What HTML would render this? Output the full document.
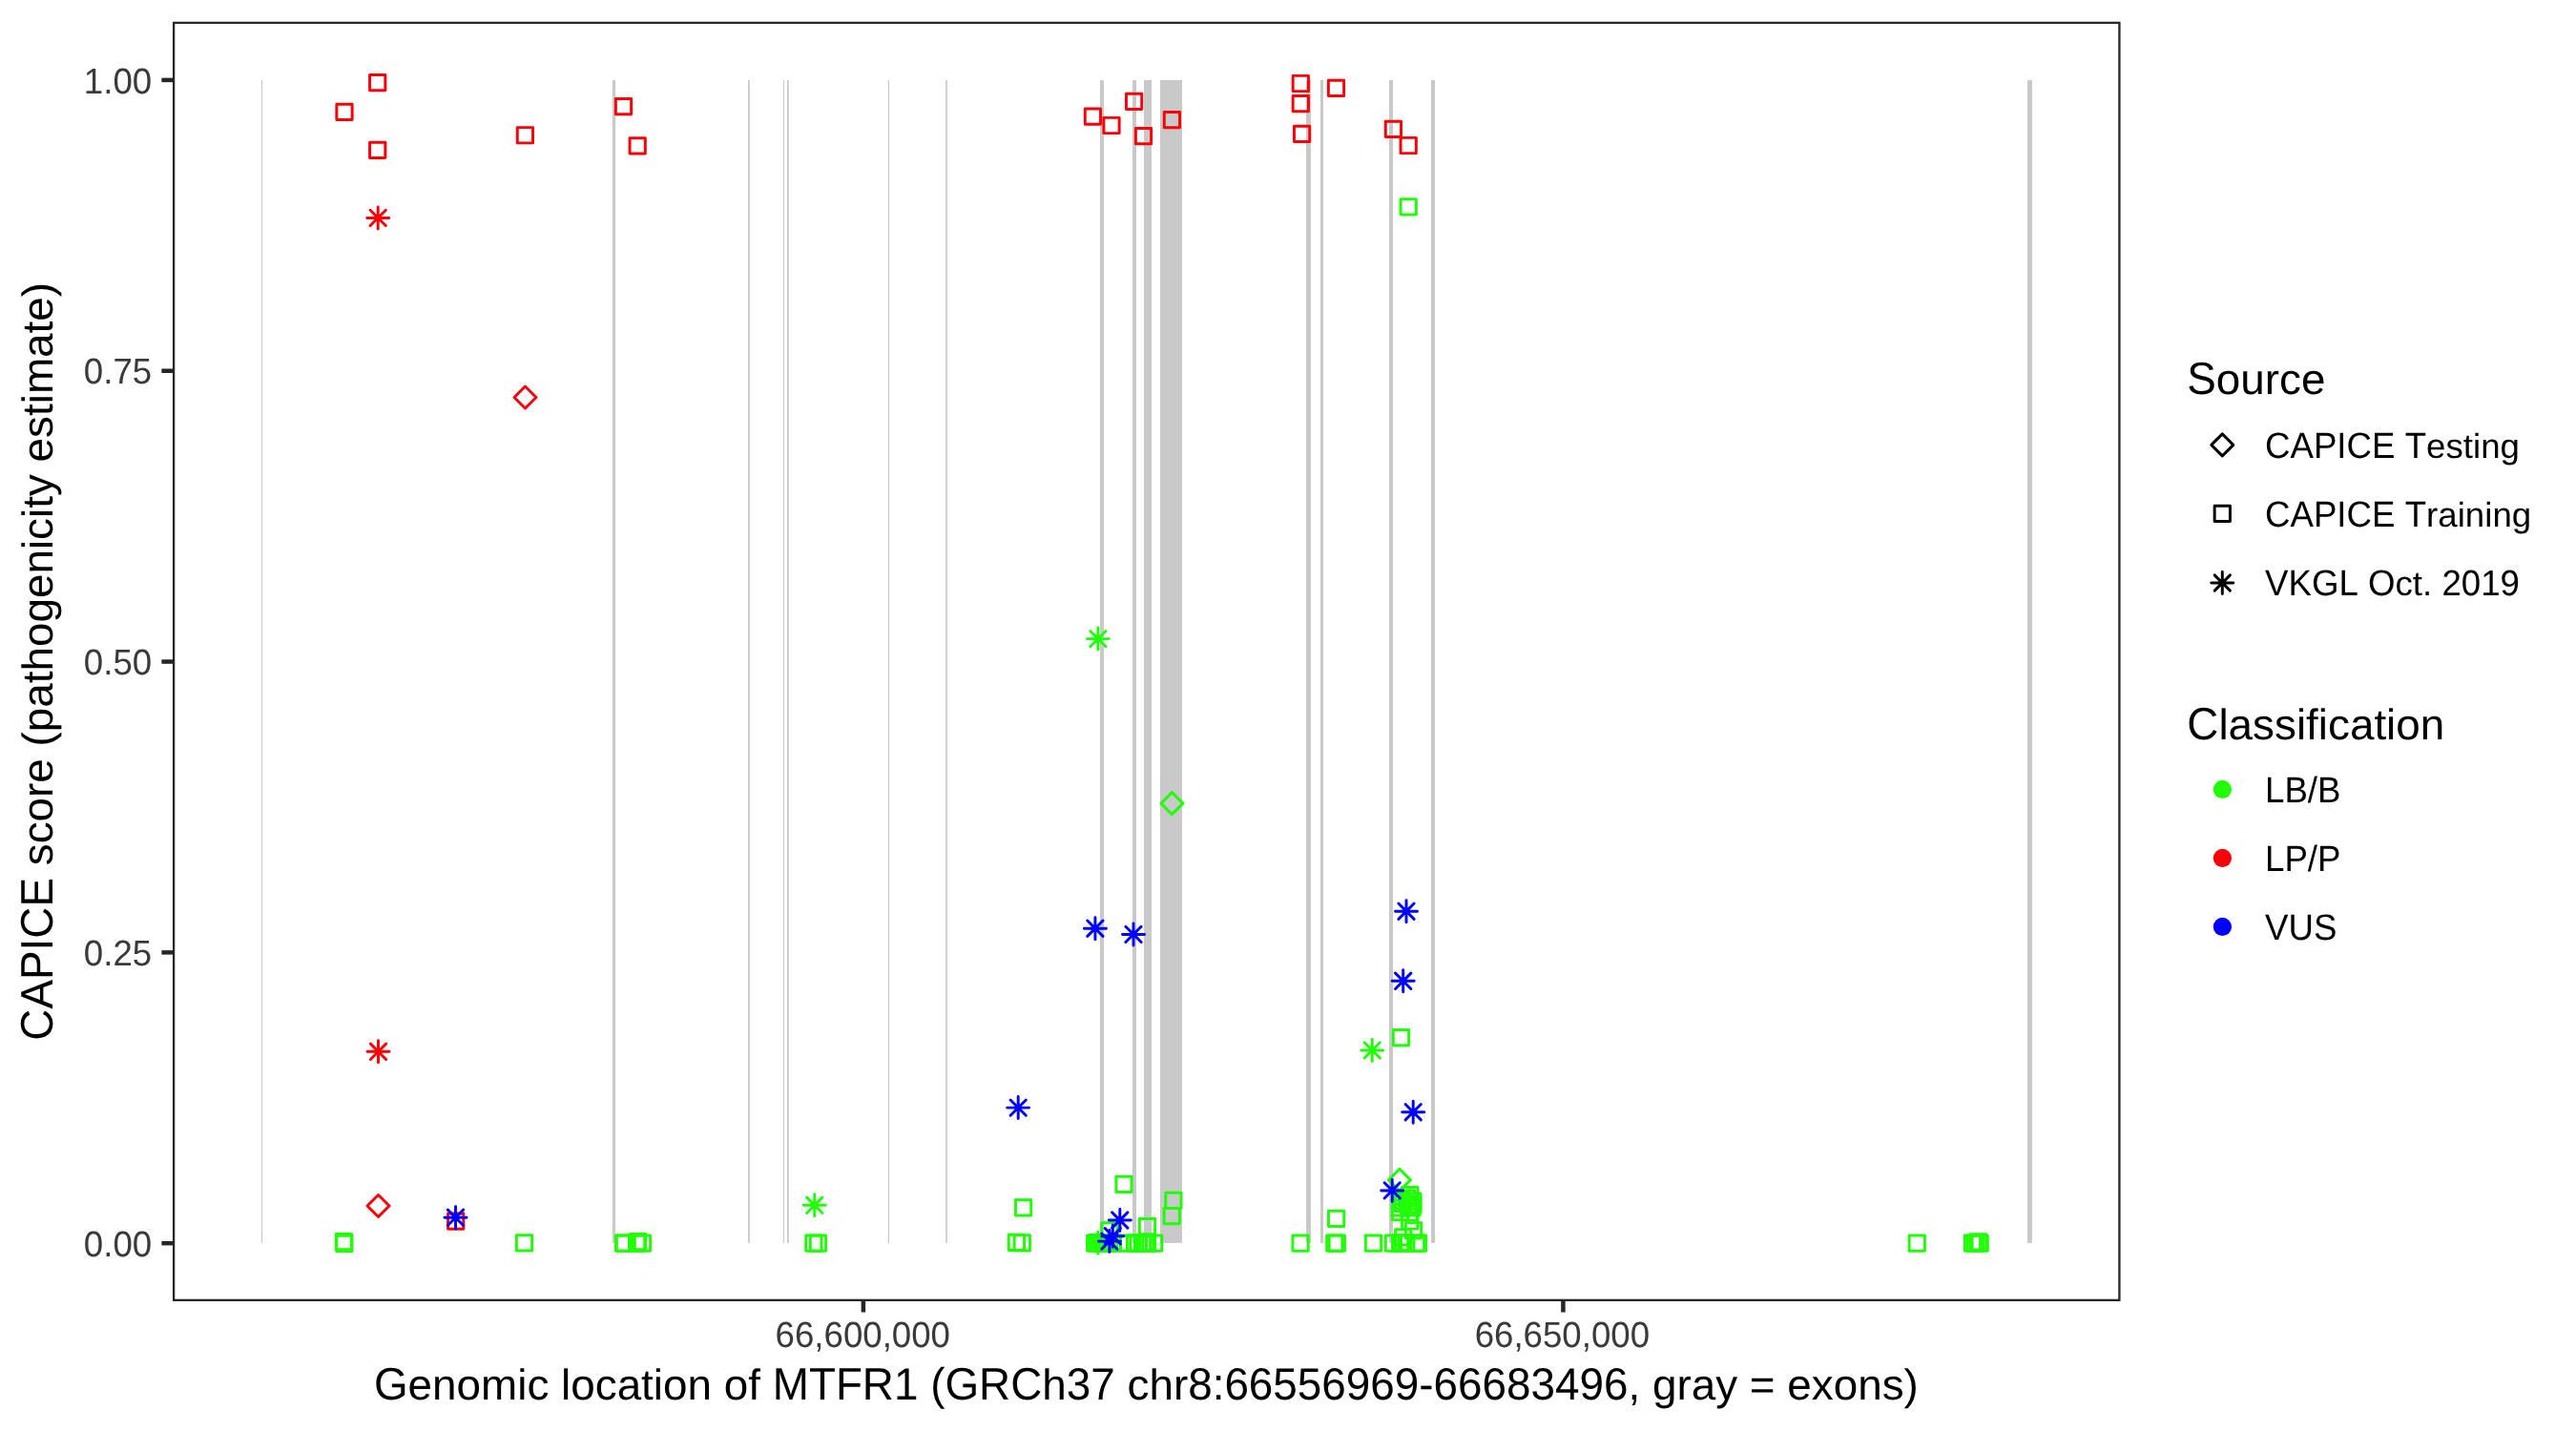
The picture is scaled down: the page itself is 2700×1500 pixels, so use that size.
<!DOCTYPE html>
<html><head><meta charset="utf-8"><title>CAPICE MTFR1</title>
<style>html,body{margin:0;padding:0;background:#fff}body{width:2700px;height:1500px;position:relative;overflow:hidden;font-family:"Liberation Sans",sans-serif}</style></head>
<body>
<svg text-rendering="geometricPrecision" style="font-kerning:none;will-change:transform;position:absolute;left:0;top:0" width="2700" height="1500" viewBox="0 0 2700 1500">
<rect width="2700" height="1500" fill="#fff"/>
<g fill="#C9C9C9">
<rect x="273.9" y="83.9" width="1.20" height="1219.00"/>
<rect x="641.9" y="83.9" width="3.20" height="1219.00"/>
<rect x="784.1" y="83.9" width="1.80" height="1219.00"/>
<rect x="820.9" y="83.9" width="1.10" height="1219.00"/>
<rect x="825.0" y="83.9" width="1.80" height="1219.00"/>
<rect x="930.8" y="83.9" width="1.20" height="1219.00"/>
<rect x="991.2" y="83.9" width="1.70" height="1219.00"/>
<rect x="1153" y="83.9" width="4.00" height="1219.00"/>
<rect x="1187" y="83.9" width="4.00" height="1219.00"/>
<rect x="1199" y="83.9" width="8.00" height="1219.00"/>
<rect x="1216" y="83.9" width="23.00" height="1219.00"/>
<rect x="1369" y="83.9" width="5.00" height="1219.00"/>
<rect x="1384" y="83.9" width="3.00" height="1219.00"/>
<rect x="1456" y="83.9" width="4.00" height="1219.00"/>
<rect x="1500" y="83.9" width="4.00" height="1219.00"/>
<rect x="2125" y="83.9" width="5.00" height="1219.00"/>
</g>
<g fill="none" stroke-width="2.95" stroke-linejoin="round" stroke-linecap="round">
<rect x="387.56" y="78.46" width="16.27" height="16.27" stroke="#FB0007"/>
<rect x="352.86" y="109.26" width="16.27" height="16.27" stroke="#FB0007"/>
<rect x="387.56" y="149.26" width="16.27" height="16.27" stroke="#FB0007"/>
<rect x="542.26" y="133.61" width="16.27" height="16.27" stroke="#FB0007"/>
<rect x="645.36" y="103.56" width="16.27" height="16.27" stroke="#FB0007"/>
<rect x="660.06" y="144.66" width="16.27" height="16.27" stroke="#FB0007"/>
<rect x="1137.26" y="114.06" width="16.27" height="16.27" stroke="#FB0007"/>
<rect x="1156.86" y="123.36" width="16.27" height="16.27" stroke="#FB0007"/>
<rect x="1180.46" y="98.26" width="16.27" height="16.27" stroke="#FB0007"/>
<rect x="1190.36" y="134.46" width="16.27" height="16.27" stroke="#FB0007"/>
<rect x="1220.26" y="117.56" width="16.27" height="16.27" stroke="#FB0007"/>
<rect x="1355.16" y="79.36" width="16.27" height="16.27" stroke="#FB0007"/>
<rect x="1355.16" y="100.46" width="16.27" height="16.27" stroke="#FB0007"/>
<rect x="1356.46" y="132.26" width="16.27" height="16.27" stroke="#FB0007"/>
<rect x="1392.36" y="84.26" width="16.27" height="16.27" stroke="#FB0007"/>
<rect x="1452.26" y="127.16" width="16.27" height="16.27" stroke="#FB0007"/>
<rect x="1468.06" y="144.36" width="16.27" height="16.27" stroke="#FB0007"/>
<rect x="469.56" y="1272.06" width="16.27" height="16.27" stroke="#FB0007"/>
<rect x="1468.06" y="208.66" width="16.27" height="16.27" stroke="#21FF06"/>
<rect x="1460.36" y="1079.46" width="16.27" height="16.27" stroke="#21FF06"/>
<rect x="352.26" y="1293.36" width="16.27" height="16.27" stroke="#21FF06"/>
<rect x="352.76" y="1295.36" width="16.27" height="16.27" stroke="#21FF06"/>
<rect x="541.36" y="1294.76" width="16.27" height="16.27" stroke="#21FF06"/>
<rect x="645.36" y="1295.06" width="16.27" height="16.27" stroke="#21FF06"/>
<rect x="646.36" y="1295.06" width="16.27" height="16.27" stroke="#21FF06"/>
<rect x="659.46" y="1295.06" width="16.27" height="16.27" stroke="#21FF06"/>
<rect x="660.46" y="1293.56" width="16.27" height="16.27" stroke="#21FF06"/>
<rect x="665.31" y="1295.06" width="16.27" height="16.27" stroke="#21FF06"/>
<rect x="844.71" y="1295.06" width="16.27" height="16.27" stroke="#21FF06"/>
<rect x="849.31" y="1295.06" width="16.27" height="16.27" stroke="#21FF06"/>
<rect x="1064.46" y="1257.66" width="16.27" height="16.27" stroke="#21FF06"/>
<rect x="1057.26" y="1294.26" width="16.27" height="16.27" stroke="#21FF06"/>
<rect x="1063.16" y="1294.76" width="16.27" height="16.27" stroke="#21FF06"/>
<rect x="1169.86" y="1233.26" width="16.27" height="16.27" stroke="#21FF06"/>
<rect x="1221.76" y="1250.16" width="16.27" height="16.27" stroke="#21FF06"/>
<rect x="1220.06" y="1266.56" width="16.27" height="16.27" stroke="#21FF06"/>
<rect x="1194.36" y="1277.56" width="16.27" height="16.27" stroke="#21FF06"/>
<rect x="1154.76" y="1281.76" width="16.27" height="16.27" stroke="#21FF06"/>
<rect x="1139.56" y="1295.06" width="16.27" height="16.27" stroke="#21FF06"/>
<rect x="1142.56" y="1294.46" width="16.27" height="16.27" stroke="#21FF06"/>
<rect x="1145.56" y="1295.06" width="16.27" height="16.27" stroke="#21FF06"/>
<rect x="1148.56" y="1295.06" width="16.27" height="16.27" stroke="#21FF06"/>
<rect x="1151.56" y="1294.26" width="16.27" height="16.27" stroke="#21FF06"/>
<rect x="1154.56" y="1295.06" width="16.27" height="16.27" stroke="#21FF06"/>
<rect x="1158.36" y="1295.06" width="16.27" height="16.27" stroke="#21FF06"/>
<rect x="1174.56" y="1295.06" width="16.27" height="16.27" stroke="#21FF06"/>
<rect x="1181.46" y="1295.06" width="16.27" height="16.27" stroke="#21FF06"/>
<rect x="1184.86" y="1295.06" width="16.27" height="16.27" stroke="#21FF06"/>
<rect x="1189.46" y="1294.36" width="16.27" height="16.27" stroke="#21FF06"/>
<rect x="1192.46" y="1295.06" width="16.27" height="16.27" stroke="#21FF06"/>
<rect x="1194.46" y="1295.06" width="16.27" height="16.27" stroke="#21FF06"/>
<rect x="1201.46" y="1295.06" width="16.27" height="16.27" stroke="#21FF06"/>
<rect x="1354.91" y="1295.06" width="16.27" height="16.27" stroke="#21FF06"/>
<rect x="1392.46" y="1269.26" width="16.27" height="16.27" stroke="#21FF06"/>
<rect x="1390.66" y="1295.06" width="16.27" height="16.27" stroke="#21FF06"/>
<rect x="1393.16" y="1295.06" width="16.27" height="16.27" stroke="#21FF06"/>
<rect x="1431.36" y="1295.06" width="16.27" height="16.27" stroke="#21FF06"/>
<rect x="1469.56" y="1244.56" width="16.27" height="16.27" stroke="#21FF06"/>
<rect x="1472.56" y="1251.06" width="16.27" height="16.27" stroke="#21FF06"/>
<rect x="1466.36" y="1247.86" width="16.27" height="16.27" stroke="#21FF06"/>
<rect x="1462.36" y="1253.36" width="16.27" height="16.27" stroke="#21FF06"/>
<rect x="1459.16" y="1257.86" width="16.27" height="16.27" stroke="#21FF06"/>
<rect x="1467.86" y="1254.86" width="16.27" height="16.27" stroke="#21FF06"/>
<rect x="1471.86" y="1257.86" width="16.27" height="16.27" stroke="#21FF06"/>
<rect x="1459.36" y="1262.56" width="16.27" height="16.27" stroke="#21FF06"/>
<rect x="1469.36" y="1262.86" width="16.27" height="16.27" stroke="#21FF06"/>
<rect x="1460.86" y="1250.36" width="16.27" height="16.27" stroke="#21FF06"/>
<rect x="1472.86" y="1254.36" width="16.27" height="16.27" stroke="#21FF06"/>
<rect x="1469.56" y="1271.86" width="16.27" height="16.27" stroke="#21FF06"/>
<rect x="1473.36" y="1281.76" width="16.27" height="16.27" stroke="#21FF06"/>
<rect x="1462.56" y="1288.66" width="16.27" height="16.27" stroke="#21FF06"/>
<rect x="1452.26" y="1295.06" width="16.27" height="16.27" stroke="#21FF06"/>
<rect x="1459.56" y="1295.06" width="16.27" height="16.27" stroke="#21FF06"/>
<rect x="1460.86" y="1294.36" width="16.27" height="16.27" stroke="#21FF06"/>
<rect x="1462.36" y="1295.06" width="16.27" height="16.27" stroke="#21FF06"/>
<rect x="1465.66" y="1295.06" width="16.27" height="16.27" stroke="#21FF06"/>
<rect x="1476.36" y="1295.06" width="16.27" height="16.27" stroke="#21FF06"/>
<rect x="1478.36" y="1295.06" width="16.27" height="16.27" stroke="#21FF06"/>
<rect x="2001.11" y="1295.06" width="16.27" height="16.27" stroke="#21FF06"/>
<rect x="2059.36" y="1295.06" width="16.27" height="16.27" stroke="#21FF06"/>
<rect x="2062.36" y="1295.06" width="16.27" height="16.27" stroke="#21FF06"/>
<rect x="2065.46" y="1293.76" width="16.27" height="16.27" stroke="#21FF06"/>
<rect x="2067.06" y="1295.06" width="16.27" height="16.27" stroke="#21FF06"/>
<path d="M538.99 416.50L550.50 404.99L562.01 416.50L550.50 428.01Z" stroke="#FB0007"/>
<path d="M384.99 1264.00L396.50 1252.49L408.01 1264.00L396.50 1275.51Z" stroke="#FB0007"/>
<path d="M1216.89 842.10L1228.40 830.59L1239.91 842.10L1228.40 853.61Z" stroke="#21FF06"/>
<path d="M1455.39 1236.90L1466.90 1225.39L1478.41 1236.90L1466.90 1248.41Z" stroke="#21FF06"/>
<path d="M384.69 228.40H407.71M396.20 216.89V239.91M388.06 220.26L404.34 236.54M388.06 236.54L404.34 220.26" stroke="#FB0007"/>
<path d="M384.99 1102.30H408.01M396.50 1090.79V1113.81M388.36 1094.16L404.64 1110.44M388.36 1110.44L404.64 1094.16" stroke="#FB0007"/>
<path d="M1139.39 669.60H1162.41M1150.90 658.09V681.11M1142.76 661.46L1159.04 677.74M1142.76 677.74L1159.04 661.46" stroke="#21FF06"/>
<path d="M1426.69 1100.90H1449.71M1438.20 1089.39V1112.41M1430.06 1092.76L1446.34 1109.04M1430.06 1109.04L1446.34 1092.76" stroke="#21FF06"/>
<path d="M842.29 1263.30H865.31M853.80 1251.79V1274.81M845.66 1255.16L861.94 1271.44M845.66 1271.44L861.94 1255.16" stroke="#21FF06"/>
<path d="M1139.19 1302.70H1162.21M1150.70 1291.19V1314.21M1142.56 1294.56L1158.84 1310.84M1142.56 1310.84L1158.84 1294.56" stroke="#21FF06"/>
<path d="M1136.39 973.20H1159.41M1147.90 961.69V984.71M1139.76 965.06L1156.04 981.34M1139.76 981.34L1156.04 965.06" stroke="#0000FF"/>
<path d="M1176.49 979.40H1199.51M1188.00 967.89V990.91M1179.86 971.26L1196.14 987.54M1179.86 987.54L1196.14 971.26" stroke="#0000FF"/>
<path d="M1055.69 1161.10H1078.71M1067.20 1149.59V1172.61M1059.06 1152.96L1075.34 1169.24M1059.06 1169.24L1075.34 1152.96" stroke="#0000FF"/>
<path d="M1462.49 955.20H1485.51M1474.00 943.69V966.71M1465.86 947.06L1482.14 963.34M1465.86 963.34L1482.14 947.06" stroke="#0000FF"/>
<path d="M1459.19 1028.30H1482.21M1470.70 1016.79V1039.81M1462.56 1020.16L1478.84 1036.44M1462.56 1036.44L1478.84 1020.16" stroke="#0000FF"/>
<path d="M1469.69 1165.70H1492.71M1481.20 1154.19V1177.21M1473.06 1157.56L1489.34 1173.84M1473.06 1173.84L1489.34 1157.56" stroke="#0000FF"/>
<path d="M465.99 1276.30H489.01M477.50 1264.79V1287.81M469.36 1268.16L485.64 1284.44M469.36 1284.44L485.64 1268.16" stroke="#0000FF"/>
<path d="M1162.29 1279.00H1185.31M1173.80 1267.49V1290.51M1165.66 1270.86L1181.94 1287.14M1165.66 1287.14L1181.94 1270.86" stroke="#0000FF"/>
<path d="M1151.39 1301.10H1174.41M1162.90 1289.59V1312.61M1154.76 1292.96L1171.04 1309.24M1154.76 1309.24L1171.04 1292.96" stroke="#0000FF"/>
<path d="M1154.79 1295.70H1177.81M1166.30 1284.19V1307.21M1158.16 1287.56L1174.44 1303.84M1158.16 1303.84L1174.44 1287.56" stroke="#0000FF"/>
<path d="M1447.69 1247.90H1470.71M1459.20 1236.39V1259.41M1451.06 1239.76L1467.34 1256.04M1451.06 1256.04L1467.34 1239.76" stroke="#0000FF"/>
</g>
<rect x="182.1" y="23.9" width="2039.3" height="1338.95" fill="none" stroke="#262626" stroke-width="2.3"/>
<g stroke="#262626" stroke-width="4.5">
<line x1="169.4" x2="181" y1="1303.20" y2="1303.20"/>
<line x1="169.4" x2="181" y1="998.38" y2="998.38"/>
<line x1="169.4" x2="181" y1="693.55" y2="693.55"/>
<line x1="169.4" x2="181" y1="388.73" y2="388.73"/>
<line x1="169.4" x2="181" y1="83.90" y2="83.90"/>
<line x1="904.9" x2="904.9" y1="1364" y2="1375.5"/>
<line x1="1638.4" x2="1638.4" y1="1364" y2="1375.5"/>
</g>
<g font-family="'Liberation Sans', sans-serif">
<text transform="translate(159.2,1316.9) translate(-71.370,0) scale(1,1.033)" font-size="36.67" fill="#3A3A3A">0.00</text>
<text transform="translate(159.2,1012.08) translate(-71.370,0) scale(1,1.033)" font-size="36.67" fill="#3A3A3A">0.25</text>
<text transform="translate(159.2,707.25) translate(-71.370,0) scale(1,1.033)" font-size="36.67" fill="#3A3A3A">0.50</text>
<text transform="translate(159.2,402.43) translate(-71.370,0) scale(1,1.033)" font-size="36.67" fill="#3A3A3A">0.75</text>
<text transform="translate(159.2,97.6) translate(-71.370,0) scale(1,1.033)" font-size="36.67" fill="#3A3A3A">1.00</text>
<text transform="translate(904.3,1412.2) translate(-91.765,0) scale(1,1.033)" font-size="36.67" fill="#3A3A3A">66,600,000</text>
<text transform="translate(1637.4,1412.2) translate(-91.765,0) scale(1,1.033)" font-size="36.67" fill="#3A3A3A">66,650,000</text>
<text transform="translate(1201.4,1466.8) translate(-809.466,0) scale(1,1.04)" font-size="45.83" fill="#000">G</text><text transform="translate(1201.4,1466.8) translate(-773.818,0) scale(1,0.985)" font-size="45.83" fill="#000">enomic location of </text><text transform="translate(1201.4,1466.8) translate(-391.692,0) scale(1,1.04)" font-size="45.83" fill="#000">MTFR</text><text transform="translate(1201.4,1466.8) translate(-264.429,0) scale(1,1.033)" font-size="45.83" fill="#000">1 (</text><text transform="translate(1201.4,1466.8) translate(-210.946,0) scale(1,1.04)" font-size="45.83" fill="#000">GRC</text><text transform="translate(1201.4,1466.8) translate(-109.104,0) scale(1,0.985)" font-size="45.83" fill="#000">h</text><text transform="translate(1201.4,1466.8) translate(-83.615,0) scale(1,1.033)" font-size="45.83" fill="#000">37 </text><text transform="translate(1201.4,1466.8) translate(-19.905,0) scale(1,0.985)" font-size="45.83" fill="#000">chr</text><text transform="translate(1201.4,1466.8) translate(43.760,0) scale(1,1.033)" font-size="45.83" fill="#000">8:66556969-66683496, </text><text transform="translate(1201.4,1466.8) translate(530.525,0) scale(1,0.985)" font-size="45.83" fill="#000">gray = exons)</text>
<text transform="translate(54.8,693.3) rotate(-90) translate(-397.354,0) scale(1,1.04)" font-size="45.83" fill="#000">CAPICE </text><text transform="translate(54.8,693.3) rotate(-90) translate(-213.989,0) scale(1,0.985)" font-size="45.83" fill="#000">score (pathogenicity estimate)</text>
<text transform="translate(2292.3,412.5) translate(0.000,0) scale(1,1.04)" font-size="45.83" fill="#000">S</text><text transform="translate(2292.3,412.5) translate(30.568,0) scale(1,0.985)" font-size="45.83" fill="#000">ource</text>
<text transform="translate(2292.3,774.6) translate(0.000,0) scale(1,1.04)" font-size="45.83" fill="#000">C</text><text transform="translate(2292.3,774.6) translate(33.097,0) scale(1,0.985)" font-size="45.83" fill="#000">lassification</text>
<text transform="translate(2374.0,480.0) translate(0.000,0) scale(1,1.04)" font-size="36.67" fill="#000">CAPICE T</text><text transform="translate(2374.0,480.0) translate(169.115,0) scale(1,0.985)" font-size="36.67" fill="#000">esting</text>
<text transform="translate(2374.0,552.0) translate(0.000,0) scale(1,1.04)" font-size="36.67" fill="#000">CAPICE T</text><text transform="translate(2374.0,552.0) translate(169.115,0) scale(1,0.985)" font-size="36.67" fill="#000">raining</text>
<text transform="translate(2374.0,623.8) translate(0.000,0) scale(1,1.04)" font-size="36.67" fill="#000">VKGL O</text><text transform="translate(2374.0,623.8) translate(136.546,0) scale(1,0.985)" font-size="36.67" fill="#000">ct. </text><text transform="translate(2374.0,623.8) translate(185.445,0) scale(1,1.033)" font-size="36.67" fill="#000">2019</text>
<text transform="translate(2374.0,840.9) translate(0.000,0) scale(1,1.04)" font-size="36.67" fill="#000">LB/B</text>
<text transform="translate(2374.0,912.9) translate(0.000,0) scale(1,1.04)" font-size="36.67" fill="#000">LP/P</text>
<text transform="translate(2374.0,984.9) translate(0.000,0) scale(1,1.04)" font-size="36.67" fill="#000">VUS</text>
</g>
<g fill="none" stroke-width="2.95" stroke-linejoin="round" stroke-linecap="round">
<path d="M2317.79 466.40L2329.30 454.89L2340.81 466.40L2329.30 477.91Z" stroke="#000"/>
<rect x="2321.16" y="530.16" width="16.27" height="16.27" stroke="#000"/>
<path d="M2317.79 611.00H2340.81M2329.30 599.49V622.51M2321.16 602.86L2337.44 619.14M2321.16 619.14L2337.44 602.86" stroke="#000"/>
</g>
<circle cx="2329.4" cy="827.45" r="9.65" fill="#21FF06"/>
<circle cx="2329.4" cy="899.45" r="9.65" fill="#FB0007"/>
<circle cx="2329.4" cy="971.45" r="9.65" fill="#0000FF"/>
</svg>
</body></html>
